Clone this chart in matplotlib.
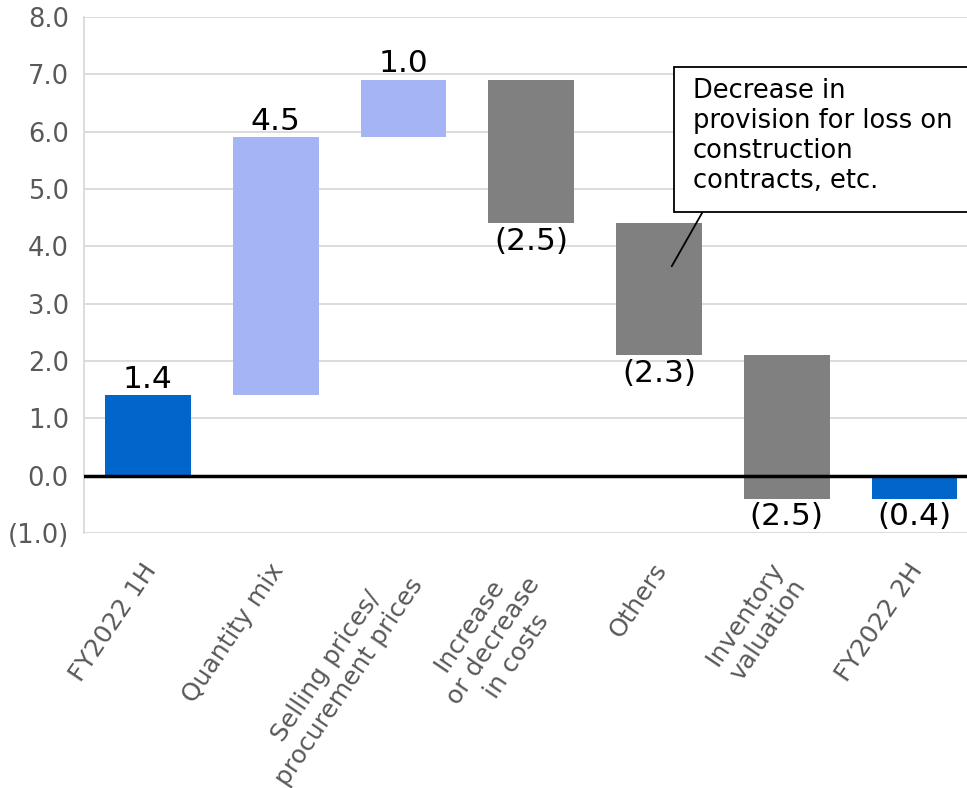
import numpy as np
import matplotlib.pyplot as plt
from matplotlib.ticker import FuncFormatter
from matplotlib.patches import Rectangle

categories = ["FY2022 1H", "Quantity mix", "Selling prices/\nprocurement prices",
              "Increase\nor decrease\nin costs", "Others", "Inventory\nvaluation", "FY2022 2H"]
changes = [1.4, 4.5, 1.0, -2.5, -2.3, -2.5, -0.4]
is_total = [True, False, False, False, False, False, True]
value_labels = ["1.4", "4.5", "1.0", "(2.5)", "(2.3)", "(2.5)", "(0.4)"]
note = "Decrease in\nprovision for loss on\nconstruction\ncontracts, etc."

c_total = "#0066CC"
c_up = "#A4B4F5"
c_down = "#808080"

# waterfall bottoms / tops
bottoms, heights, colors = [], [], []
running = 0.0
for v, tot in zip(changes, is_total):
    if tot:
        bottoms.append(0.0)
        heights.append(v)
        colors.append(c_total)
        running = v
    else:
        bottoms.append(running)
        heights.append(v)
        colors.append(c_up if v > 0 else c_down)
        running += v

plt.rcParams['font.family'] = ['DejaVu Sans']

fig = plt.figure(figsize=(9.67, 7.88), dpi=100)
# axes runs a little past the right edge of the picture, like the original
ax = fig.add_axes([0.0869, 0.3236, 0.925, 0.6548])

x = np.arange(len(categories))
ax.bar(x, heights, bottom=bottoms, color=colors, width=0.67, zorder=3)

ax.set_xlim(-0.5, len(categories) - 0.5)
ax.set_ylim(-1, 8)
ax.set_yticks(np.arange(-1, 9, 1))
ax.yaxis.set_major_formatter(FuncFormatter(
    lambda v, p: "({:.1f})".format(-v) if v < 0 else "{:.1f}".format(v)))
ax.grid(axis="y", color="#D9D9D9", linewidth=1.3, zorder=0)
ax.axhline(0, color="black", linewidth=2.5, zorder=4)
for s in ["top", "right", "bottom"]:
    ax.spines[s].set_visible(False)
ax.spines["left"].set_color("#D9D9D9")
ax.spines["left"].set_linewidth(1.3)
ax.tick_params(axis="y", length=0, labelsize=18.5, labelcolor="#595959", pad=11)
ax.tick_params(axis="x", length=0)

ax.set_xticks(x)
ax.set_xticklabels([])
for xi, lab in zip(x, categories):
    n = lab.count("\n")
    ax.text(xi + 0.025, -1.57 - 0.12 * n, lab, rotation=56, rotation_mode="anchor",
            ha="right", va="center", multialignment="center", linespacing=1.22,
            fontsize=18, color="#595959", clip_on=False)

# value labels
for xi, b, h, lab in zip(x, bottoms, heights, value_labels):
    top = b + h
    if h > 0:
        ax.text(xi, top + 0.03, lab, ha="center", va="bottom", fontsize=22.5, color="black")
    else:
        ax.text(xi, top - 0.06, lab, ha="center", va="top", fontsize=22.5, color="black")

# callout box and leader line
ax.add_patch(Rectangle((4.116, 4.597), 3.0, 7.127 - 4.597, fc="white", ec="black",
                       lw=1.3, zorder=6, clip_on=False))
ax.text(4.265, 6.93, note, ha="left", va="top", fontsize=18.5, linespacing=1.2,
        color="black", zorder=7)
ax.plot([4.336, 4.10], [4.58, 3.655], color="black", lw=1.3, zorder=7)

fig.savefig("out.png", dpi=100)
